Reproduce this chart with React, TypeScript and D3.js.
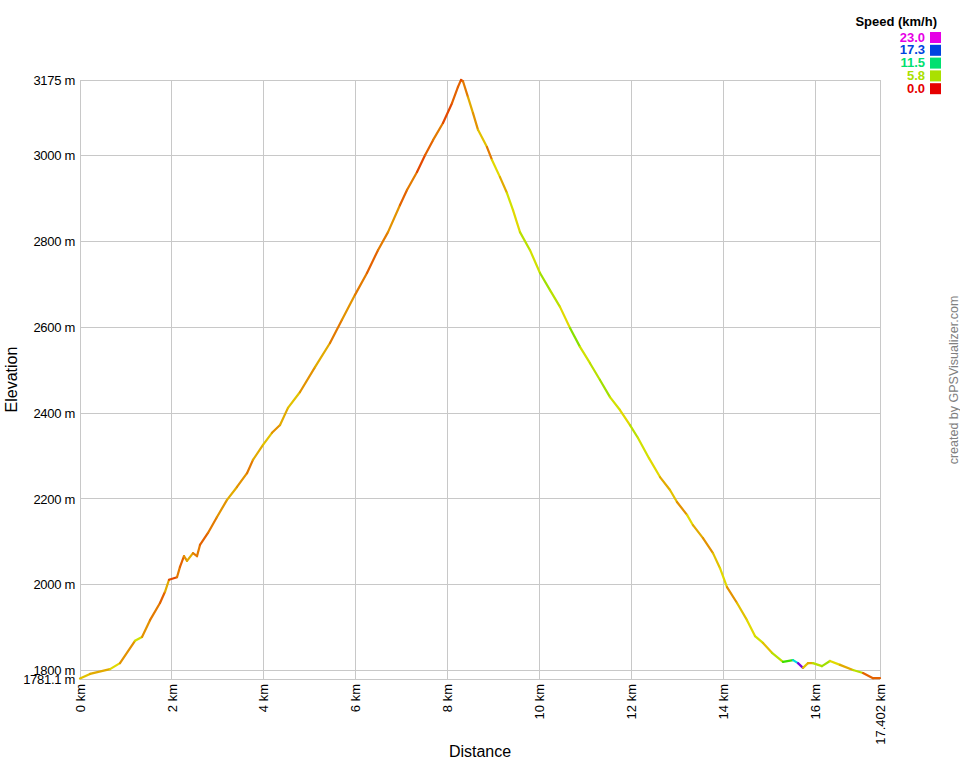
import React from 'react';
import * as d3 from 'd3';

// track profile
const distanceKm = [
  0, 0.218, 0.653, 0.87, 1.196, 1.349, 1.523, 1.74, 1.849, 1.936,
  2.11, 2.175, 2.262, 2.328, 2.458, 2.545, 2.61, 2.784, 2.98, 3.198,
  3.415, 3.633, 3.763, 3.981, 4.176, 4.351, 4.524, 4.786, 5.112, 5.438,
  5.699, 5.982, 6.243, 6.482, 6.7, 6.961, 7.113, 7.331, 7.505, 7.679,
  7.896, 8.092, 8.222, 8.288, 8.331, 8.44, 8.549, 8.658, 8.853, 8.962,
  9.136, 9.288, 9.419, 9.571, 9.789, 10.006, 10.224, 10.441, 10.659, 10.876,
  11.094, 11.311, 11.529, 11.746, 11.964, 12.138, 12.377, 12.617, 12.834, 12.986,
  13.204, 13.334, 13.552, 13.769, 13.922, 14.074, 14.292, 14.509, 14.683, 14.857,
  15.053, 15.292, 15.51, 15.618, 15.727, 15.836, 15.944, 16.14, 16.314, 16.532,
  16.815, 17.032, 17.25, 17.402,
];

const elevationM = [
  1782, 1793, 1804, 1818, 1870, 1879, 1918, 1958, 1984, 2012,
  2018, 2042, 2067, 2056, 2074, 2067, 2093, 2121, 2158, 2198,
  2228, 2260, 2291, 2326, 2354, 2372, 2412, 2449, 2507, 2563,
  2617, 2675, 2726, 2779, 2821, 2884, 2919, 2961, 3000, 3035,
  3075, 3121, 3159, 3175, 3172, 3135, 3098, 3059, 3019, 2989,
  2949, 2912, 2872, 2821, 2779, 2726, 2686, 2647, 2598, 2554,
  2516, 2477, 2437, 2407, 2372, 2342, 2295, 2251, 2221, 2193,
  2163, 2139, 2109, 2074, 2039, 1995, 1958, 1918, 1881, 1865,
  1842, 1821, 1825, 1818, 1807, 1818, 1818, 1811, 1823, 1814,
  1802, 1795, 1783, 1783,
];

const speedKmh = [
  4.5, 4.0, 3.5, 4.5, 3.0, 5.0, 3.0, 2.5, 2.0, 3.5,
  1.5, 2.5, 2.0, 3.0, 3.5, 2.5, 2.5, 2.0, 2.5, 3.0,
  3.5, 3.0, 2.5, 3.5, 4.0, 3.0, 3.5, 4.0, 3.0, 3.5,
  2.5, 3.0, 2.5, 2.0, 2.5, 3.0, 2.0, 2.5, 1.5, 2.0,
  2.5, 1.5, 2.0, 2.0, 1.5, 2.5, 3.5, 3.0, 4.0, 2.5,
  4.5, 3.5, 5.0, 4.5, 5.5, 5.0, 6.0, 5.5, 4.5, 6.5,
  5.0, 5.5, 6.0, 5.0, 4.5, 5.5, 5.0, 4.5, 3.5, 4.0,
  3.0, 4.5, 3.5, 3.0, 4.0, 4.5, 3.0, 4.0, 4.5, 5.0,
  4.0, 5.5, 8.0, 14.0, 21.0, 4.0, 3.5, 5.5, 6.0, 4.5,
  3.5, 5.5, 2.0, 2.0,
];

const xTicks = [0, 2, 4, 6, 8, 10, 12, 14, 16, 17.402];
const yTicks = [1781.1, 1800, 2000, 2200, 2400, 2600, 2800, 3000, 3175];

const legendSpeeds = [23.0, 17.3, 11.5, 5.8, 0.0];
const legendColors = ['#e600e6', '#0044e0', '#00e070', '#aae000', '#e60000'];

const W = 960;
const H = 760;
const margin = { top: 80, right: 80, bottom: 81, left: 80 };
const font = 'Arial, "Liberation Sans", sans-serif';

export default function App() {
  const x = d3.scaleLinear().domain([0, 17.402]).range([margin.left, W - margin.right]);
  const y = d3.scaleLinear().domain([1781.1, 3175]).range([H - margin.bottom, margin.top]);

  const speedColor = d3
    .scaleLinear<string>()
    .domain([...legendSpeeds].reverse())
    .range([...legendColors].reverse())
    .interpolate(d3.interpolateHsl)
    .clamp(true);

  const segments = distanceKm.slice(1).map((d, i) => ({
    x1: x(distanceKm[i]),
    y1: y(elevationM[i]),
    x2: x(d),
    y2: y(elevationM[i + 1]),
    color: speedColor(speedKmh[i + 1]),
  }));

  const fmtX = (d: number) => (Number.isInteger(d) ? `${d} km` : `${d.toFixed(3)} km`);
  const fmtY = (d: number) => (Number.isInteger(d) ? `${d} m` : `${d.toFixed(1)} m`);

  return (
    <svg
      width={W}
      height={H}
      style={{ position: 'absolute', left: 0, top: 0, background: '#fff' }}
      fontFamily={font}
    >
      {/* grid */}
      <g stroke="#c8c8c8" strokeWidth={1} shapeRendering="crispEdges">
        {yTicks.map((t) => (
          <line key={'gy' + t} x1={x(0)} x2={x(17.402)} y1={y(t)} y2={y(t)} />
        ))}
        {xTicks.map((t) => (
          <line key={'gx' + t} x1={x(t)} x2={x(t)} y1={y(1781.1)} y2={y(3175)} />
        ))}
      </g>

      {/* y tick labels */}
      <g fontSize={13} fill="#000" textAnchor="end">
        {yTicks.map((t) => (
          <text key={'ly' + t} x={x(0) - 5} y={y(t)} dy="0.35em" letterSpacing={-0.3}>
            {fmtY(t)}
          </text>
        ))}
      </g>

      {/* x tick labels */}
      <g fontSize={13} fill="#000" textAnchor="end">
        {xTicks.map((t) => (
          <text
            key={'lx' + t}
            transform={`translate(${x(t)},${y(1781.1) + 5}) rotate(-90)`}
            dy="0.35em"
          >
            {fmtX(t)}
          </text>
        ))}
      </g>

      {/* profile coloured by speed */}
      <g strokeWidth={2.2} strokeLinecap="round" fill="none">
        {segments.map((s, i) => (
          <line key={i} x1={s.x1} y1={s.y1} x2={s.x2} y2={s.y2} stroke={s.color} />
        ))}
      </g>

      {/* axis titles */}
      <text x={(x(0) + x(17.402)) / 2} y={757} textAnchor="middle" fontSize={16}>
        Distance
      </text>
      <text transform={`translate(17,${(y(1781.1) + y(3175)) / 2}) rotate(-90)`} textAnchor="middle" fontSize={16}>
        Elevation
      </text>

      {/* legend */}
      <text x={937} y={26} textAnchor="end" fontSize={13} fontWeight="bold">
        Speed (km/h)
      </text>
      {legendSpeeds.map((s, i) => (
        <g key={'lg' + s} transform={`translate(0,${37 + i * 12.8})`}>
          <text x={925} y={0} dy="0.36em" textAnchor="end" fontSize={13} fontWeight="bold" fill={legendColors[i]}>
            {s.toFixed(1)}
          </text>
          <rect x={930} y={-5} width={11} height={11} fill={legendColors[i]} />
        </g>
      ))}

      <text transform={`translate(958,380) rotate(-90)`} textAnchor="middle" fontSize={12.5} fill="#808080">
        created by GPSVisualizer.com
      </text>
    </svg>
  );
}
